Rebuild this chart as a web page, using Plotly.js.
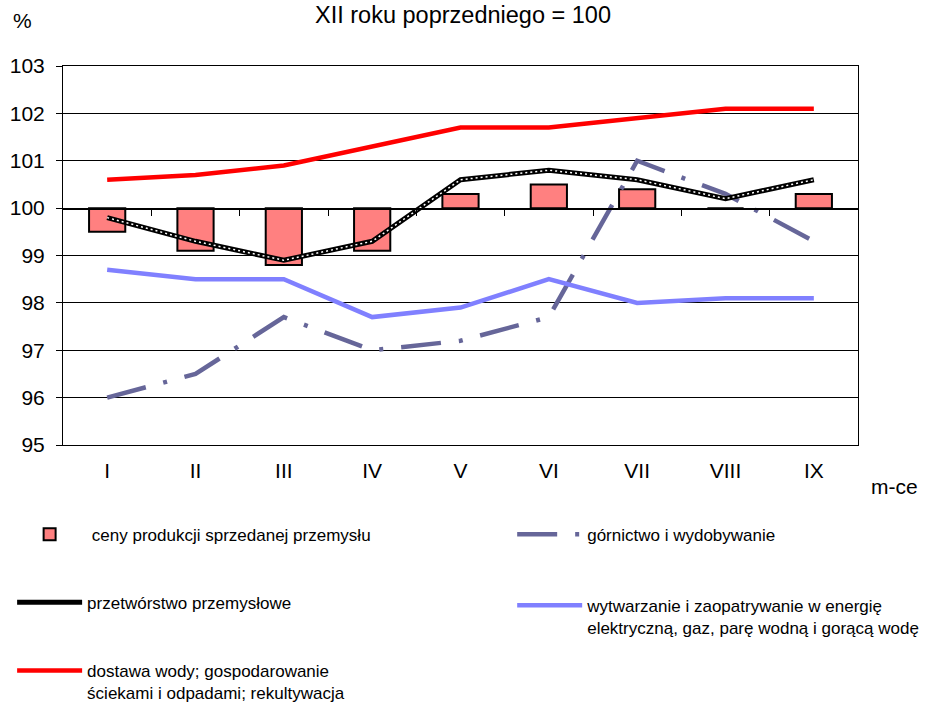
<!DOCTYPE html>
<html>
<head>
<meta charset="utf-8">
<script src="https://cdn.plot.ly/plotly-3.0.1.min.js"></script>
<style>html,body{margin:0;padding:0;background:#fff;}#chart{width:926px;height:704px;}</style>
</head>
<body>
<div id="chart"></div>
<script>
// Data
const months = ["I","II","III","IV","V","VI","VII","VIII","IX"];
const cenyProdukcji = [99.5, 99.1, 98.8, 99.1, 100.3, 100.5, 100.4, 100.0, 100.3];
const gornictwo = [96.0, 96.5, 97.7, 97.0, 97.2, 97.7, 101.0, 100.3, 99.3];
const przetworstwo = [99.8, 99.3, 98.9, 99.3, 100.6, 100.8, 100.6, 100.2, 100.6];
const wytwarzanie = [98.7, 98.5, 98.5, 97.7, 97.9, 98.5, 98.0, 98.1, 98.1];
const dostawa = [100.6, 100.7, 100.9, 101.3, 101.7, 101.7, 101.9, 102.1, 102.1];
const baseValue = 100;
const boundaryTicks = [0.5, 1.5, 2.5, 3.5, 4.5, 5.5, 6.5, 7.5];

const FONT = "Liberation Sans, Arial, sans-serif";

const traces = [
  {
    type: "bar", name: " ceny produkcji sprzedanej przemysłu",
    x: months, y: cenyProdukcji.map(v => +(v - baseValue).toFixed(2)), base: baseValue,
    width: 0.41,
    marker: {color: "#FF8080", line: {color: "#000000", width: 2}},
    legend: "legend", legendgroup: "g1", hoverinfo: "skip"
  },
  {
    type: "scatter", mode: "lines", name: "górnictwo i wydobywanie",
    x: months, y: gornictwo,
    line: {color: "#666699", width: 4.5, dash: "40px,18px,4px,18px"},
    legend: "legend2", legendgroup: "g2", hoverinfo: "skip"
  },
  {
    type: "scatter", mode: "lines", name: "przetwórstwo przemysłowe",
    x: months, y: przetworstwo,
    line: {color: "#000000", width: 5},
    legend: "legend", legendgroup: "g3", hoverinfo: "skip"
  },
  {
    type: "scatter", mode: "lines", name: "przetwórstwo przemysłowe",
    x: months, y: przetworstwo, showlegend: false,
    line: {color: "#FFFFFF", width: 1.5, dash: "2px,3px"},
    legend: "legend", legendgroup: "g3", hoverinfo: "skip"
  },
  {
    type: "scatter", mode: "lines", name: "wytwarzanie i zaopatrywanie w energię<br>elektryczną, gaz, parę wodną i gorącą wodę",
    x: months, y: wytwarzanie,
    line: {color: "#8080FF", width: 4.5},
    legend: "legend2", legendgroup: "g4", hoverinfo: "skip"
  },
  {
    type: "scatter", mode: "lines", name: "dostawa wody; gospodarowanie<br>ściekami i odpadami; rekultywacja",
    x: months, y: dostawa,
    line: {color: "#FF0000", width: 4.5},
    legend: "legend", legendgroup: "g5", hoverinfo: "skip"
  },
  {
    type: "scatter", mode: "lines", x: [], y: [], xaxis: "x2", yaxis: "y",
    showlegend: false, hoverinfo: "skip"
  }
];

const layout = {
  width: 926, height: 704,
  paper_bgcolor: "#FFFFFF", plot_bgcolor: "#FFFFFF",
  font: {family: FONT, color: "#000000", size: 17},
  margin: {l: 63, r: 68, t: 66, b: 259, autoexpand: false},
  showlegend: true,
  title: {
    text: "XII roku poprzedniego = 100",
    font: {family: FONT, size: 23.5, color: "#000000"},
    x: 0.5, xref: "container", xanchor: "center",
    y: 1 - 15 / 704, yref: "container", yanchor: "middle"
  },
  xaxis: {
    type: "category", categoryorder: "array", categoryarray: months,
    range: [-0.5, 8.5],
    showline: true, mirror: true, linecolor: "#000000", linewidth: 1,
    showgrid: false, zeroline: false, ticks: "",
    tickfont: {family: FONT, size: 21, color: "#000000"},
    ticklabelstandoff: 7
  },
  xaxis2: {
    overlaying: "x", anchor: "free", position: (baseValue - 95) / (103 - 95),
    range: [-0.5, 8.5], tickvals: boundaryTicks, ticks: "outside", ticklen: 6,
    tickcolor: "#000000", tickwidth: 1,
    showticklabels: false, showgrid: false, zeroline: false,
    showline: true, linecolor: "#000000", linewidth: 1.5, side: "bottom"
  },
  yaxis: {
    range: [95, 103], dtick: 1, tick0: 95,
    showline: true, mirror: true, linecolor: "#000000", linewidth: 1,
    showgrid: true, gridcolor: "#000000", gridwidth: 1, zeroline: false,
    ticks: "outside", ticklen: 6, tickcolor: "#000000",
    tickfont: {family: FONT, size: 21, color: "#000000"},
    ticklabelstandoff: 7
  },
  legend: {
    x: -0.064, xanchor: "left", y: -0.189, yanchor: "top",
    orientation: "v", tracegroupgap: 43, valign: "top",
    itemwidth: 65, font: {family: FONT, size: 17, color: "#000000"},
    bgcolor: "rgba(0,0,0,0)", traceorder: "grouped"
  },
  legend2: {
    x: 0.565, xanchor: "left", y: -0.189, yanchor: "top",
    orientation: "v", tracegroupgap: 46, valign: "top",
    itemwidth: 65, font: {family: FONT, size: 17, color: "#000000"},
    bgcolor: "rgba(0,0,0,0)", traceorder: "grouped"
  },
  annotations: [
    {text: "%", xref: "paper", yref: "paper", x: (22 - 63) / 795, y: (445 - 20) / 379,
     xanchor: "center", yanchor: "middle", showarrow: false,
     font: {family: FONT, size: 21, color: "#000000"}},
    {text: "m-ce", xref: "paper", yref: "paper", x: (894 - 63) / 795, y: (445 - 486) / 379,
     xanchor: "center", yanchor: "middle", showarrow: false,
     font: {family: FONT, size: 21, color: "#000000"}}
  ]
};

Plotly.newPlot("chart", traces, layout, {staticPlot: true, displayModeBar: false});
</script>
</body>
</html>
